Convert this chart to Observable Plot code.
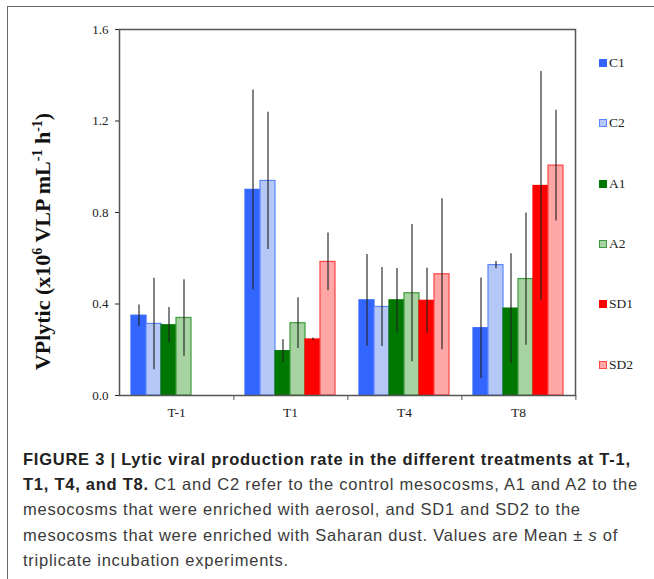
<!DOCTYPE html>
<html>
<head>
<meta charset="utf-8">
<script src="https://cdn.jsdelivr.net/npm/d3@7"></script>
<script src="https://cdn.jsdelivr.net/npm/@observablehq/plot@0.6"></script>
<style>
  html, body { margin: 0; padding: 0; background: #fff; }
  #wrap { position: relative; width: 654px; height: 579px; overflow: hidden; background: #fff; }
  #border { position: absolute; left: 7px; top: 6px; right: -2px; bottom: -2px; border-top: 1.5px solid #6a6a6a; border-left: 1.5px solid #6a6a6a; }
  #chart { position: absolute; left: 0; top: 0; }
  .leg { position: absolute; left: 599px; font-family: "Liberation Serif", serif; font-size: 13.5px; color: #222; line-height: 14px; display: flex; align-items: center; }
  .leg span.sw { display: inline-block; width: 6px; height: 6px; margin-right: 2px; border: 1px solid; }
  #caption { position: absolute; left: 23px; top: 447px; font-family: "Liberation Sans", Arial, sans-serif; font-size: 16.5px; letter-spacing: 0.75px; line-height: 25.2px; color: #3a3a3a; white-space: nowrap; }
  #caption b { color: #222; }
</style>
</head>
<body>
<div id="wrap">
  <div id="border"></div>
  <div id="chart"></div>
  <div id="legend"></div>
  <div id="caption">
    <b>FIGURE 3 | Lytic viral production rate in the different treatments at T-1,</b><br>
    <b>T1, T4, and T8.</b> C1 and C2 refer to the control mesocosms, A1 and A2 to the<br>
    mesocosms that were enriched with aerosol, and SD1 and SD2 to the<br>
    mesocosms that were enriched with Saharan dust. Values are Mean ± <i>s</i> of<br>
    triplicate incubation experiments.
  </div>
</div>
<script>
// ---- data ----
const times = ["T-1", "T1", "T4", "T8"];
const series = ["C1", "C2", "A1", "A2", "SD1", "SD2"];
const meanC1 = [0.349, 0.899, 0.416, 0.294];
const sdC1   = [0.047, 0.437, 0.200, 0.220];
const meanC2 = [0.313, 0.938, 0.387, 0.570];
const sdC2   = [0.200, 0.300, 0.173, 0.016];
const meanA1 = [0.307, 0.194, 0.416, 0.380];
const sdA1   = [0.078, 0.050, 0.139, 0.240];
const meanA2 = [0.339, 0.316, 0.447, 0.509];
const sdA2   = [0.167, 0.111, 0.300, 0.289];
const meanSD1 = [null, 0.245, 0.414, 0.916];
const sdSD1   = [null, 0.006, 0.142, 0.500];
const meanSD2 = [null, 0.584, 0.530, 1.005];
const sdSD2   = [null, 0.126, 0.330, 0.242];
const yTicks = [0, 0.4, 0.8, 1.2, 1.6];

// ---- styles ----
const fillOf   = {C1: "#3366ff", C2: "#b5c7f7", A1: "#007700", A2: "#a6d3a1", SD1: "#ff0000", SD2: "#ffa6a6"};
const strokeOf = {C1: "#3366ff", C2: "#5b85ff", A1: "#007700", A2: "#3f9b3f", SD1: "#ff0000", SD2: "#ff4545"};

const means = {C1: meanC1, C2: meanC2, A1: meanA1, A2: meanA2, SD1: meanSD1, SD2: meanSD2};
const sds   = {C1: sdC1, C2: sdC2, A1: sdA1, A2: sdA2, SD1: sdSD1, SD2: sdSD2};
const rows = [];
times.forEach((t, i) => series.forEach(s => {
  if (means[s][i] != null) rows.push({time: t, series: s, mean: means[s][i], sd: sds[s][i]});
}));

const W = 654, H = 420, mL = 117, mR = 78, mT = 29, mB = 25;
const band = (W - mL - mR) / times.length;

const chart = Plot.plot({
  width: W, height: H,
  marginLeft: mL, marginRight: mR, marginTop: mT, marginBottom: mB,
  style: {fontFamily: "Liberation Serif, serif", fontSize: "13px", color: "#222", background: "transparent"},
  fx: {domain: times, padding: 0, label: null},
  x: {domain: series, paddingInner: 0, paddingOuter: 0.71, axis: null},
  y: {domain: [0, 1.6], ticks: yTicks, tickFormat: d3.format(".1f"), tickSize: 4, tickPadding: 7, label: null},
  color: {type: "identity"},
  marks: [
    Plot.barY(rows, {fx: "time", x: "series", y: "mean", fill: d => fillOf[d.series], stroke: d => strokeOf[d.series], strokeWidth: 1.2}),
    Plot.ruleX(rows, {fx: "time", x: "series", y1: d => d.mean - d.sd, y2: d => d.mean + d.sd, stroke: "#222", strokeOpacity: 0.75, strokeWidth: 1.5}),
    Plot.frame({facet: "super", stroke: "#555", strokeWidth: 1.5}),
    Plot.axisFx({anchor: "bottom", tickSize: 0, tickPadding: 12, label: null, fontSize: 13.5}),
    Plot.axisFx({anchor: "bottom", tickSize: 5, fill: "none", dx: band / 2, label: null, stroke: "#555"})
  ]
});
document.getElementById("chart").appendChild(chart);

// y-axis title with real superscripts
const svg = d3.select(chart);
const t = svg.append("text")
  .attr("transform", "translate(50,241.5) rotate(-90)")
  .attr("text-anchor", "middle")
  .attr("font-family", "Liberation Serif, serif")
  .attr("font-weight", "bold")
  .attr("font-size", 22)
  .attr("fill", "#111");
t.append("tspan").text("VPlytic (x10");
t.append("tspan").attr("dy", -8).attr("font-size", 14).text("6");
t.append("tspan").attr("dy", 8).text(" VLP mL");
t.append("tspan").attr("dy", -8).attr("font-size", 14).text("-1");
t.append("tspan").attr("dy", 8).text(" h");
t.append("tspan").attr("dy", -8).attr("font-size", 14).text("-1");
t.append("tspan").attr("dy", 8).text(")");

// legend
const leg = document.getElementById("legend");
series.forEach((s, i) => {
  const d = document.createElement("div");
  d.className = "leg";
  d.style.top = (56 + i * 60.3) + "px";
  const sw = document.createElement("span");
  sw.className = "sw";
  sw.style.background = fillOf[s];
  sw.style.borderColor = strokeOf[s];
  d.appendChild(sw);
  d.appendChild(document.createTextNode(s));
  leg.appendChild(d);
});
</script>
</body>
</html>
